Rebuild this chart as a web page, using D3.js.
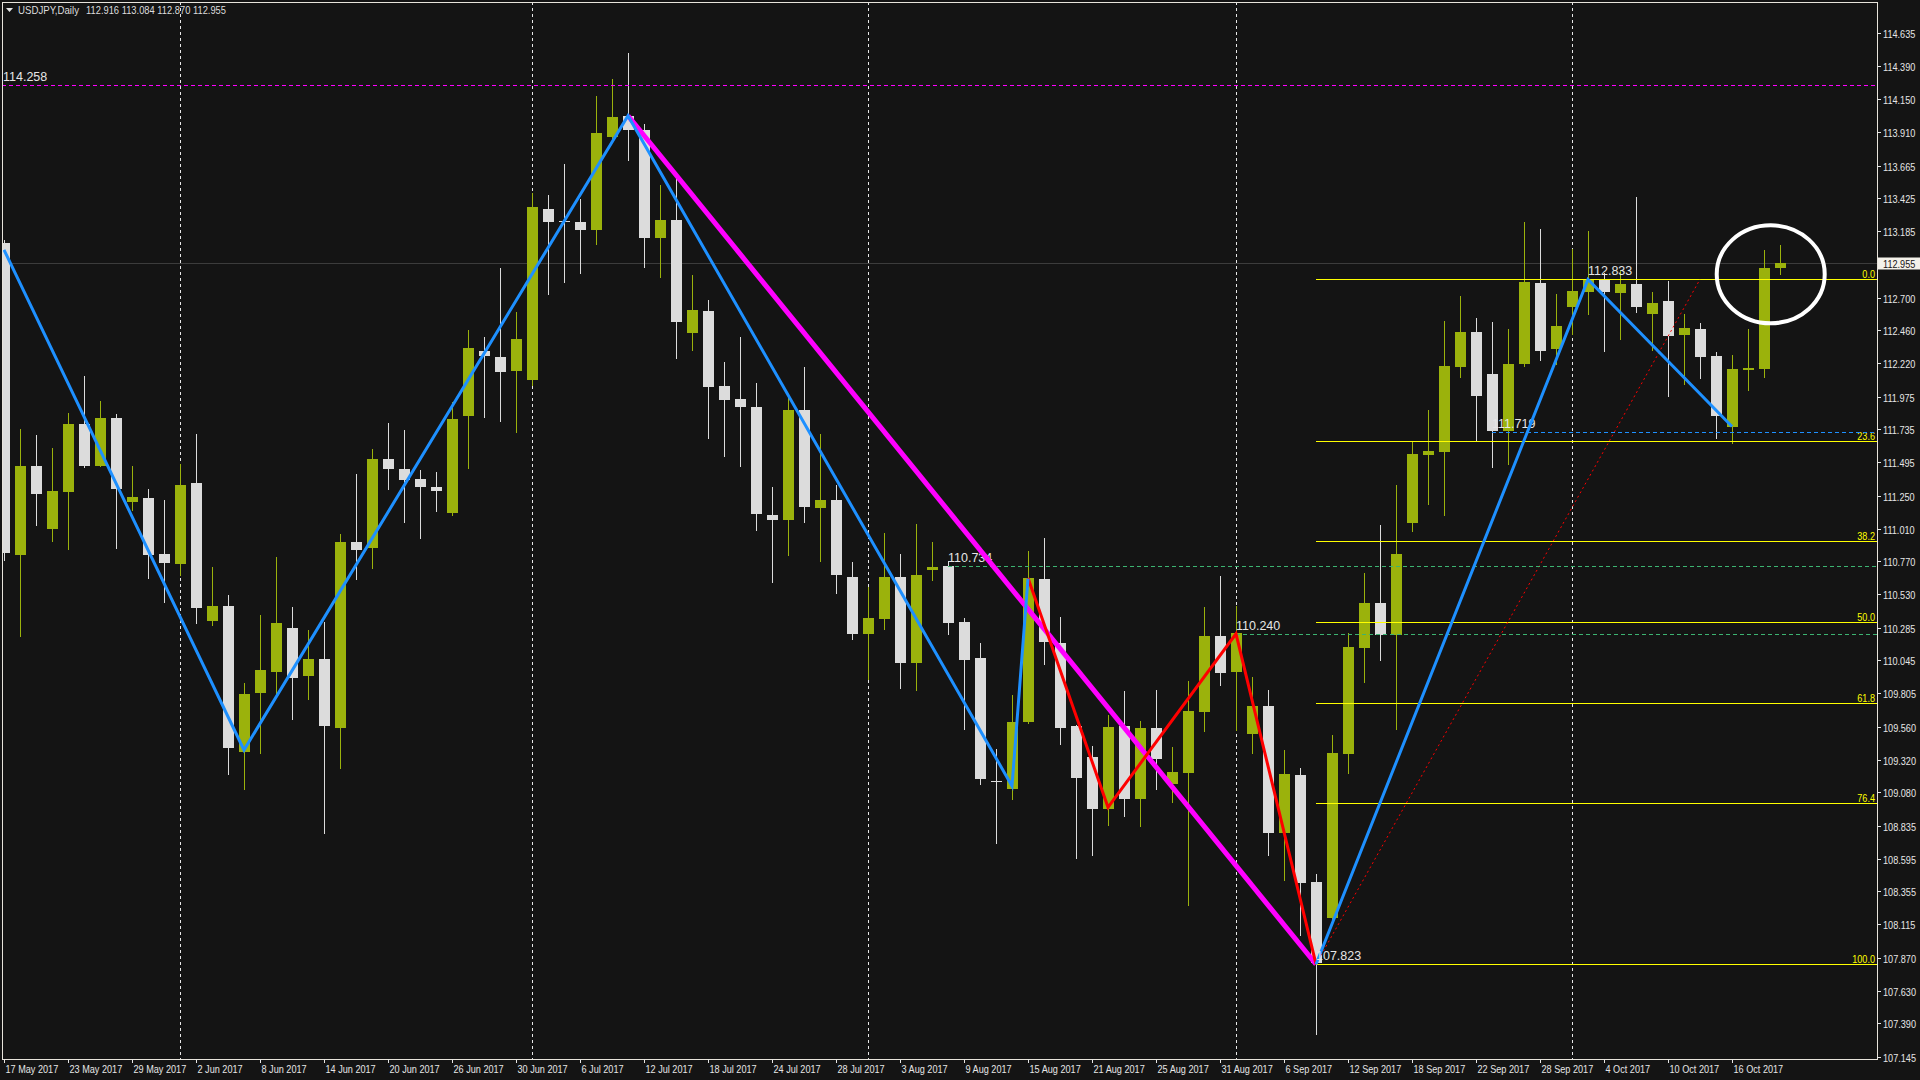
<!DOCTYPE html>
<html><head><meta charset="utf-8">
<script src="https://cdnjs.cloudflare.com/ajax/libs/d3/7.8.5/d3.min.js"></script>
<style>
html,body{margin:0;padding:0;background:#141414;overflow:hidden}
svg{display:block}
</style></head><body>
<svg id="chart" width="1920" height="1080"></svg>
<script>
// ---------------- DATA ----------------
const symbolTitle = "USDJPY,Daily";
const titleQuote = "112.916 113.084 112.870 112.955";
const currentPrice = 112.955;

const dates = ["17 May 2017","18 May 2017","19 May 2017","22 May 2017","23 May 2017","24 May 2017","25 May 2017","26 May 2017","29 May 2017","30 May 2017","31 May 2017",
"1 Jun 2017","2 Jun 2017","5 Jun 2017","6 Jun 2017","7 Jun 2017","8 Jun 2017","9 Jun 2017","12 Jun 2017","13 Jun 2017","14 Jun 2017","15 Jun 2017","16 Jun 2017","19 Jun 2017","20 Jun 2017","21 Jun 2017","22 Jun 2017","23 Jun 2017","26 Jun 2017","27 Jun 2017","28 Jun 2017","29 Jun 2017","30 Jun 2017",
"3 Jul 2017","4 Jul 2017","5 Jul 2017","6 Jul 2017","7 Jul 2017","10 Jul 2017","11 Jul 2017","12 Jul 2017","13 Jul 2017","14 Jul 2017","17 Jul 2017","18 Jul 2017","19 Jul 2017","20 Jul 2017","21 Jul 2017","24 Jul 2017","25 Jul 2017","26 Jul 2017","27 Jul 2017","28 Jul 2017","31 Jul 2017",
"1 Aug 2017","2 Aug 2017","3 Aug 2017","4 Aug 2017","7 Aug 2017","8 Aug 2017","9 Aug 2017","10 Aug 2017","11 Aug 2017","14 Aug 2017","15 Aug 2017","16 Aug 2017","17 Aug 2017","18 Aug 2017","21 Aug 2017","22 Aug 2017","23 Aug 2017","24 Aug 2017","25 Aug 2017","28 Aug 2017","29 Aug 2017","30 Aug 2017","31 Aug 2017",
"1 Sep 2017","4 Sep 2017","5 Sep 2017","6 Sep 2017","7 Sep 2017","8 Sep 2017","11 Sep 2017","12 Sep 2017","13 Sep 2017","14 Sep 2017","15 Sep 2017","18 Sep 2017","19 Sep 2017","20 Sep 2017","21 Sep 2017","22 Sep 2017","25 Sep 2017","26 Sep 2017","27 Sep 2017","28 Sep 2017","29 Sep 2017",
"2 Oct 2017","3 Oct 2017","4 Oct 2017","5 Oct 2017","6 Oct 2017","9 Oct 2017","10 Oct 2017","11 Oct 2017","12 Oct 2017","13 Oct 2017","16 Oct 2017","17 Oct 2017","18 Oct 2017","19 Oct 2017"];

const opens = [113.099,110.819,111.467,111.010,111.279,111.774,111.470,111.820,111.201,111.233,110.825,
110.753,111.343,110.336,110.443,109.378,109.810,109.957,110.280,109.933,110.055,109.548,110.910,110.869,111.517,111.445,111.370,111.312,111.125,111.830,112.307,112.266,112.164,
112.099,113.348,113.257,113.252,113.197,113.876,114.028,113.926,113.139,113.267,112.437,112.601,112.053,111.959,111.898,111.110,111.076,111.878,111.157,111.219,110.656,
110.241,110.351,110.656,110.029,110.709,110.734,110.327,110.063,109.165,109.107,109.595,110.641,110.173,109.566,109.339,108.961,109.566,109.034,109.551,109.144,109.224,109.671,110.224,
109.963,109.510,109.712,108.785,109.207,108.425,108.164,109.363,110.139,110.465,110.229,111.048,111.550,111.572,112.194,112.449,112.139,111.721,112.216,112.805,112.325,
112.634,112.743,112.831,112.736,112.799,112.582,112.675,112.429,112.470,112.273,111.756,112.172,112.180,112.916];
const highs = [113.122,111.739,111.696,111.600,111.855,112.124,111.944,111.849,111.467,111.299,111.218,
111.479,111.701,110.729,110.524,109.879,110.377,110.802,110.437,110.267,110.328,110.968,111.408,111.592,111.782,111.731,111.438,111.425,111.939,112.463,112.409,112.916,112.593,
113.465,113.450,113.678,113.421,114.174,114.299,114.490,113.970,113.523,113.565,112.865,112.682,112.228,112.411,112.076,111.313,111.972,112.191,111.703,111.330,110.765,
110.580,110.978,110.824,111.043,110.912,110.770,110.356,110.170,109.397,109.793,110.846,110.941,110.363,109.570,109.419,109.646,109.822,109.602,109.829,109.412,109.895,110.436,110.663,
110.443,109.924,109.829,109.390,109.258,108.483,109.500,110.246,110.685,111.037,111.328,111.652,111.877,112.529,112.711,112.551,112.521,112.470,113.253,113.202,112.725,
113.053,113.187,112.880,112.904,113.436,112.741,112.821,112.580,112.514,112.299,112.280,112.470,113.048,113.084];
const lows = [110.779,110.226,111.039,110.920,110.857,111.460,111.465,110.871,111.149,110.648,110.475,
110.672,110.322,110.301,109.217,109.107,109.370,109.781,109.619,109.766,108.785,109.262,110.638,110.723,111.302,111.060,110.944,111.142,111.111,111.455,111.823,111.799,111.718,
112.060,112.729,112.815,112.876,113.095,113.870,113.709,112.920,112.852,112.254,112.319,111.676,111.543,111.470,111.003,110.616,110.820,111.055,110.775,110.541,110.205,
109.910,110.278,109.846,109.832,110.636,110.241,109.546,109.144,108.712,109.029,109.590,110.022,109.437,108.598,108.624,108.841,108.907,108.837,109.107,109.012,108.259,109.532,109.866,
109.536,109.371,108.624,108.442,108.039,107.310,108.140,109.224,109.890,110.051,109.541,110.989,111.193,111.106,112.121,111.648,111.462,111.484,112.200,112.241,112.212,
112.430,112.580,112.310,112.397,112.597,112.316,111.982,112.068,112.114,111.675,111.639,112.024,112.121,112.870];
const closes = [110.828,111.467,111.265,111.285,111.774,111.470,111.820,111.302,111.241,110.819,110.761,
111.328,110.431,110.443,109.407,109.801,109.974,110.319,109.919,110.055,109.562,110.910,110.856,111.517,111.442,111.367,111.316,111.282,111.809,112.331,112.269,112.157,112.395,
113.363,113.254,113.250,113.197,113.905,114.020,113.928,113.139,113.267,112.518,112.609,112.047,111.953,111.896,111.120,111.076,111.878,111.164,111.219,110.670,110.241,
110.356,110.656,110.029,110.670,110.729,110.322,110.051,109.180,109.158,109.595,110.648,110.183,109.551,109.188,108.961,109.558,109.034,109.551,109.324,109.229,109.675,110.224,109.956,
110.246,109.712,108.785,109.215,108.420,107.829,109.368,110.144,110.465,110.229,110.822,111.553,111.575,112.198,112.449,111.983,111.721,112.212,112.813,112.310,112.492,
112.747,112.831,112.743,112.799,112.633,112.660,112.421,112.477,112.268,111.836,112.177,112.182,112.916,112.955];

const priceTicks = [114.635,114.390,114.150,113.910,113.665,113.425,113.185,112.700,112.460,112.220,111.975,111.735,111.495,111.250,111.010,110.770,110.530,110.285,110.045,109.805,109.560,109.320,109.080,108.835,108.595,108.355,108.115,107.870,107.630,107.390,107.145];
const dateTickLabels = ["17 May 2017","23 May 2017","29 May 2017","2 Jun 2017","8 Jun 2017","14 Jun 2017","20 Jun 2017","26 Jun 2017","30 Jun 2017","6 Jul 2017","12 Jul 2017","18 Jul 2017","24 Jul 2017","28 Jul 2017","3 Aug 2017","9 Aug 2017","15 Aug 2017","21 Aug 2017","25 Aug 2017","31 Aug 2017","6 Sep 2017","12 Sep 2017","18 Sep 2017","22 Sep 2017","28 Sep 2017","4 Oct 2017","10 Oct 2017","16 Oct 2017"];

// drawn objects
const blueZigzagA = [["17 May 2017",113.049],["7 Jun 2017",109.390],["11 Jul 2017",114.030],["14 Aug 2017",109.127],["15 Aug 2017",110.644]];
const blueZigzagB = [["8 Sep 2017",107.823],["3 Oct 2017",112.833],["16 Oct 2017",111.756]];
const redZigzag = [["15 Aug 2017",110.648],["22 Aug 2017",108.971],["1 Sep 2017",110.240],["8 Sep 2017",107.823]];
const magentaLine = [["11 Jul 2017",114.030],["8 Sep 2017",107.823]];
// horizontal level lines: [start date (null = left edge), price, colour, label]
const levelLines = [
  [null,114.258,"#ff00ff","114.258"],
  ["8 Aug 2017",110.734,"#3cb371","110.734"],
  ["1 Sep 2017",110.240,"#3cb371","110.240"],
  ["25 Sep 2017",111.719,"#1e90ff","111.719"]
];
const pointLabels = [["8 Sep 2017",107.823,"107.823"],["3 Oct 2017",112.833,"112.833"]];
const fibFrom = ["8 Sep 2017",107.823];
const fibTo = ["12 Oct 2017",112.833];
const fibLevels = [0,23.6,38.2,50,61.8,76.4,100];
const highlightCircle = {idx:110.42, price:112.870, rx:54, ry:49};

// ---------------- LAYOUT ----------------
const W = 1920, H = 1080;
const plot = {left:2, top:2, right:1877, bottom:1059};
const svg = d3.select("#chart");
const bull = "#9bb20c", bear = "#dcdcdc", fg = "#e6e6e6";
const regular = "'Liberation Sans',Arial,sans-serif";

const x = d3.scaleLinear().domain([0,117]).range([4,1876]);
const y = d3.scaleLinear().domain([107.145,114.635]).range([1056.9,33]);
const xi = d => x(dates.indexOf(d));
const cr = v => Math.round(v) + 0.5;

// condensed text helper (MT4 style narrow labels)
function ctext(parent, tx, ty, str, opt) {
  const o = Object.assign({size:11, sx:0.83, fill:fg, anchor:"start"}, opt||{});
  return parent.append("text")
    .attr("transform",`translate(${tx},${ty}) scale(${o.sx},1)`)
    .attr("text-anchor",o.anchor)
    .attr("fill",o.fill).attr("font-family",regular).attr("font-size",o.size+"px")
    .text(str);
}

svg.append("rect").attr("width",W).attr("height",H).attr("fill","#141414");
svg.append("defs").append("clipPath").attr("id","clip")
  .append("rect").attr("x",plot.left+1).attr("y",plot.top+1)
  .attr("width",plot.right-plot.left-1).attr("height",plot.bottom-plot.top-1);

const g = svg.append("g").attr("clip-path","url(#clip)");

// period separators (first bar of each month)
const sepIdx = dates.map((d,i)=>i).filter(i => i>0 && dates[i].split(" ")[1] !== dates[i-1].split(" ")[1]);
g.selectAll("line.sep").data(sepIdx).enter().append("line")
  .attr("x1",i=>cr(x(i))).attr("x2",i=>cr(x(i)))
  .attr("y1",plot.top).attr("y2",plot.bottom)
  .attr("stroke","#e8e8e8").attr("stroke-width",1).attr("stroke-dasharray","3,3");

// current price line
g.append("line").attr("x1",plot.left).attr("x2",plot.right)
  .attr("y1",cr(y(currentPrice))).attr("y2",cr(y(currentPrice)))
  .attr("stroke","#3c3c3c").attr("stroke-width",1);

// candles
const bars = dates.map((d,i)=>({d,i,o:opens[i],h:highs[i],l:lows[i],c:closes[i]}));
const cg = g.append("g");
cg.selectAll("line.wick").data(bars).enter().append("line")
  .attr("x1",b=>Math.round(x(b.i))+0.5).attr("x2",b=>Math.round(x(b.i))+0.5)
  .attr("y1",b=>Math.round(y(b.h))).attr("y2",b=>Math.round(y(b.l))+1)
  .attr("stroke",b=>b.c>=b.o?bull:bear).attr("stroke-width",1);
cg.selectAll("rect.body").data(bars).enter().append("rect")
  .attr("x",b=>Math.round(x(b.i))-5)
  .attr("width",11)
  .attr("y",b=>Math.round(y(Math.max(b.o,b.c))))
  .attr("height",b=>Math.max(1,Math.round(y(Math.min(b.o,b.c)))-Math.round(y(Math.max(b.o,b.c)))))
  .attr("fill",b=>b.c>=b.o?bull:bear);

// fibonacci
const fx1 = xi(fibFrom[0]);
const fibRange = fibTo[1]-fibFrom[1];
fibLevels.forEach(lv=>{
  const p = fibTo[1] - lv/100*fibRange;
  const yy = cr(y(p));
  g.append("line").attr("x1",fx1).attr("x2",plot.right).attr("y1",yy).attr("y2",yy)
    .attr("stroke","#ffff00").attr("stroke-width",1);
  ctext(g, plot.right-2, yy-2, lv.toFixed(1), {fill:"#ffff00", anchor:"end"});
});
g.append("line").attr("x1",xi(fibFrom[0])).attr("y1",y(fibFrom[1]))
  .attr("x2",xi(fibTo[0])).attr("y2",y(fibTo[1]))
  .attr("stroke","#ff0000").attr("stroke-width",1).attr("stroke-dasharray","2,3");

// horizontal level lines
levelLines.forEach(([d,p,col,lab])=>{
  const x1 = d ? xi(d) : plot.left;
  const yy = cr(y(p));
  g.append("line").attr("x1",x1).attr("x2",plot.right).attr("y1",yy).attr("y2",yy)
    .attr("stroke",col).attr("stroke-width",1).attr("stroke-dasharray","4,3");
  g.append("text").attr("x",d ? x1 : 3).attr("y",yy-5).attr("fill",fg)
    .attr("font-family",regular).attr("font-size","12.5px").text(lab);
});

// zigzag / trend lines
const line = d3.line().x(p=>xi(p[0])).y(p=>y(p[1]));
g.append("path").attr("d",line(magentaLine)).attr("fill","none").attr("stroke","#ff00ff").attr("stroke-width",5);
g.append("path").attr("d",line(redZigzag)).attr("fill","none").attr("stroke","#ff0000").attr("stroke-width",3).attr("stroke-linejoin","miter");
[blueZigzagA,blueZigzagB].forEach(z=>{
  g.append("path").attr("d",line(z)).attr("fill","none").attr("stroke","#1e90ff").attr("stroke-width",3);
});

pointLabels.forEach(([d,p,lab])=>{
  g.append("text").attr("x",xi(d)).attr("y",cr(y(p))-5).attr("fill",fg)
    .attr("font-family",regular).attr("font-size","12.5px").text(lab);
});

// highlight circle
g.append("ellipse").attr("cx",x(highlightCircle.idx)).attr("cy",y(highlightCircle.price))
  .attr("rx",highlightCircle.rx).attr("ry",highlightCircle.ry)
  .attr("fill","none").attr("stroke","#ffffff").attr("stroke-width",4);

// frame
svg.append("rect").attr("x",plot.left+0.5).attr("y",plot.top+0.5)
  .attr("width",plot.right-plot.left).attr("height",plot.bottom-plot.top)
  .attr("fill","none").attr("stroke","#e8e4dc").attr("stroke-width",1);

// title
svg.append("path").attr("d","M6,8 L13,8 L9.5,12 Z").attr("fill","#e6e6e6");
svg.append("text").attr("x",18).attr("y",14).attr("fill","#dcdcdc")
  .attr("font-family",regular).attr("font-size","11px")
  .attr("textLength",61).attr("lengthAdjust","spacingAndGlyphs").text(symbolTitle);
svg.append("text").attr("x",86).attr("y",14).attr("fill","#dcdcdc")
  .attr("font-family",regular).attr("font-size","11px")
  .attr("textLength",140).attr("lengthAdjust","spacingAndGlyphs").text(titleQuote);

// price axis
const ax = svg.append("g");
priceTicks.forEach(t=>{
  const yy = cr(y(t));
  ax.append("line").attr("x1",plot.right).attr("x2",plot.right+4).attr("y1",yy).attr("y2",yy)
    .attr("stroke",fg).attr("stroke-width",1);
  ctext(ax, plot.right+6, yy+4, t.toFixed(3));
});
// current price tag
const cy = cr(y(currentPrice));
ax.append("rect").attr("x",plot.right+1).attr("y",cy-6).attr("width",W-plot.right-1).attr("height",12).attr("fill","#f4f1ea");
ctext(ax, plot.right+6, cy+4, currentPrice.toFixed(3), {fill:"#141414"});

// time axis
dateTickLabels.forEach(lab=>{
  const xx = cr(xi(lab));
  ax.append("line").attr("x1",xx).attr("x2",xx).attr("y1",plot.bottom).attr("y2",plot.bottom+4)
    .attr("stroke",fg).attr("stroke-width",1);
  ctext(ax, xx+1, plot.bottom+14, lab);
});
</script>
</body></html>
